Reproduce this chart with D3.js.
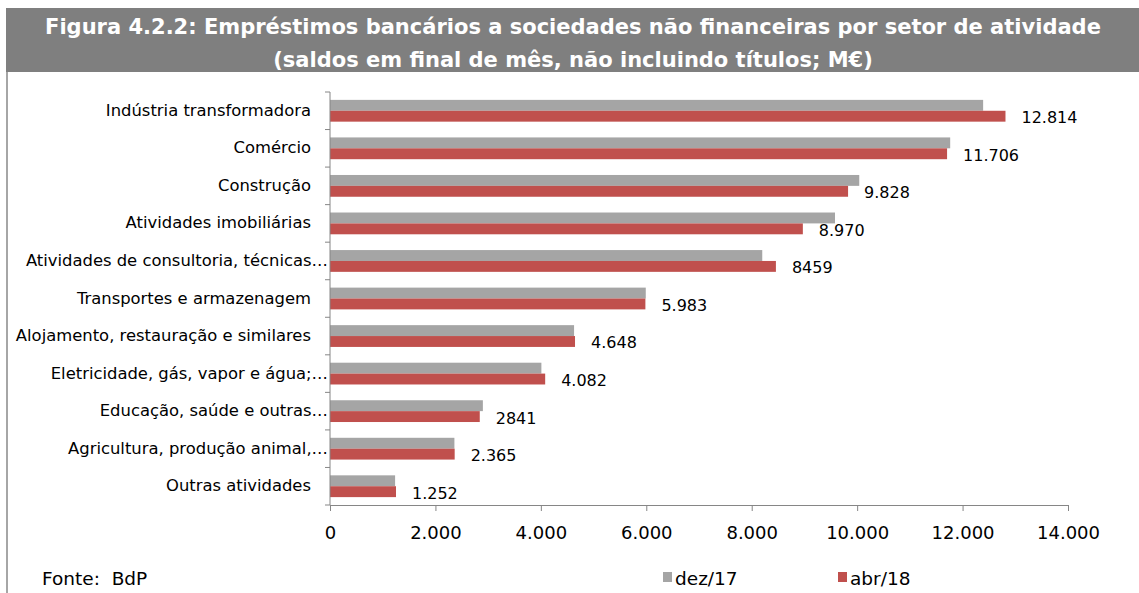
<!DOCTYPE html>
<html>
<head>
<meta charset="utf-8">
<script src="https://cdn.jsdelivr.net/npm/d3@7"></script>
<style>
  body { margin: 0; background: #fff; }
  svg { display: block; font-family: "DejaVu Sans", Verdana, sans-serif; }
</style>
</head>
<body>
<div id="chart"></div>
<script>
// Data
const categories = [
  "Indústria transformadora",
  "Comércio",
  "Construção",
  "Atividades imobiliárias",
  "Atividades de consultoria, técnicas…",
  "Transportes e armazenagem",
  "Alojamento, restauração e similares",
  "Eletricidade, gás, vapor e água;…",
  "Educação, saúde e outras…",
  "Agricultura, produção animal,…",
  "Outras atividades"
];
const dez17 = [12390, 11765, 10040, 9580, 8200, 5990, 4630, 4010, 2900, 2360, 1235];
const abr18 = [12814, 11706, 9828, 8970, 8459, 5983, 4648, 4082, 2841, 2365, 1252];
const abrLabels = ["12.814", "11.706", "9.828", "8.970", "8459", "5.983", "4.648", "4.082", "2841", "2.365", "1.252"];
const xTicks = [0, 2000, 4000, 6000, 8000, 10000, 12000, 14000];
const seriesNames = ["dez/17", "abr/18"];
const colors = ["#a5a5a5", "#c0504d"];

const W = 1139, H = 593;
const margin = { top: 92, right: 71, bottom: 88, left: 330 };
const width = W - margin.left - margin.right;
const height = H - margin.top - margin.bottom;

const svg = d3.select("#chart")
  .append("svg")
    .attr("width", W)
    .attr("height", H);

// Title band
svg.append("rect")
  .attr("x", 6).attr("y", 8)
  .attr("width", W - 6).attr("height", 64)
  .attr("fill", "#7f7f7f");

const titleLines = [
  "Figura 4.2.2: Empréstimos bancários a sociedades não financeiras por setor de atividade",
  "(saldos em final de mês, não incluindo títulos; M€)"
];
svg.selectAll(".title")
  .data(titleLines)
  .enter().append("text")
    .attr("x", 573)
    .attr("y", (d, i) => 34 + i * 33)
    .attr("text-anchor", "middle")
    .attr("fill", "#fff")
    .style("font-weight", "bold")
    .style("font-size", "21px")
    .text(d => d);

// Left frame line
svg.append("line")
  .attr("x1", 7).attr("x2", 7)
  .attr("y1", 72).attr("y2", H)
  .attr("stroke", "#a6a6a6")
  .attr("stroke-width", 2);

const g = svg.append("g")
  .attr("transform", `translate(${margin.left},${margin.top})`);

const x = d3.scaleLinear().domain([0, 14000]).range([0, width]);
const y = d3.scaleBand().domain(categories).range([0, height]).paddingInner(0).paddingOuter(0);
const inner = d3.scaleBand().domain(seriesNames).range([y.bandwidth() * 0.21, y.bandwidth() * 0.79]);

const rows = g.selectAll(".row")
  .data(categories)
  .enter().append("g")
    .attr("class", "row")
    .attr("transform", d => `translate(0,${y(d)})`);

rows.append("rect")
  .attr("x", 0)
  .attr("y", inner("dez/17"))
  .attr("width", (d, i) => x(dez17[i]))
  .attr("height", inner.bandwidth())
  .attr("fill", colors[0]);

rows.append("rect")
  .attr("x", 0)
  .attr("y", inner("abr/18"))
  .attr("width", (d, i) => x(abr18[i]))
  .attr("height", inner.bandwidth())
  .attr("fill", colors[1]);

rows.append("text")
  .attr("x", (d, i) => x(abr18[i]) + 16)
  .attr("y", inner("abr/18") + inner.bandwidth() / 2 + 7)
  .style("font-size", "16px")
  .attr("fill", "#000")
  .text((d, i) => abrLabels[i]);

// Y axis (category boundaries as ticks)
g.append("line")
  .attr("x1", 0).attr("x2", 0)
  .attr("y1", 0).attr("y2", height)
  .attr("stroke", "#868686");
g.selectAll(".ytick")
  .data(d3.range(categories.length + 1))
  .enter().append("line")
    .attr("x1", -5).attr("x2", 0)
    .attr("y1", i => i * y.step())
    .attr("y2", i => i * y.step())
    .attr("stroke", "#868686");

// truncated labels run right up to the axis, as in the original
g.selectAll(".ylabel")
  .data(categories)
  .enter().append("text")
    .attr("x", d => d.endsWith("…") ? -2 : -19)
    .attr("y", d => y(d) + y.bandwidth() / 2 + 5)
    .attr("text-anchor", "end")
    .style("font-size", "16.4px")
    .attr("fill", "#000")
    .text(d => d);

// X axis
const xAxis = g.append("g")
  .attr("transform", `translate(0,${height})`)
  .call(d3.axisBottom(x).tickValues(xTicks).tickSize(6).tickSizeOuter(0)
    .tickFormat(d => d3.format(",")(d).replace(/,/g, ".")));
xAxis.select(".domain").attr("stroke", "#868686");
xAxis.selectAll(".tick line").attr("stroke", "#868686");
xAxis.selectAll(".tick text")
  .attr("dy", 0).attr("y", 34)
  .style("font-size", "18px")
  .style("font-family", "DejaVu Sans, sans-serif")
  .attr("fill", "#000");

// Source
svg.append("text")
  .attr("x", 42).attr("y", 585)
  .style("font-size", "18.5px")
  .attr("xml:space", "preserve")
  .text("Fonte:  BdP");

// Legend
const legendX = [663, 838];
const legend = svg.selectAll(".legend")
  .data(seriesNames)
  .enter().append("g")
    .attr("transform", (d, i) => `translate(${legendX[i]},572)`);
legend.append("rect")
  .attr("width", 9).attr("height", 10)
  .attr("fill", (d, i) => colors[i]);
legend.append("text")
  .attr("x", 12).attr("y", 13)
  .style("font-size", "18.5px")
  .text(d => d);
</script>
</body>
</html>
